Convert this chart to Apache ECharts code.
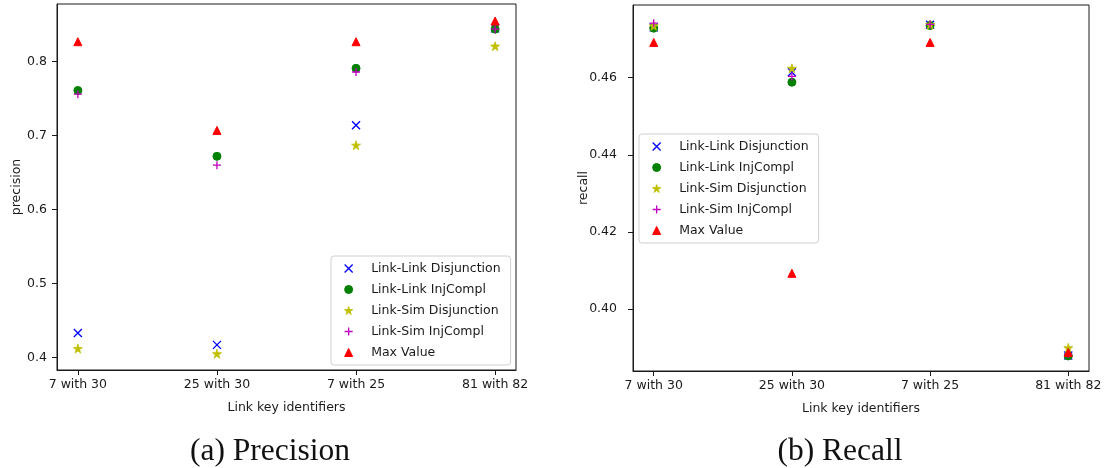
<!DOCTYPE html>
<html>
<head>
<meta charset="utf-8">
<title>Precision and Recall by link key</title>
<script src="https://cdn.jsdelivr.net/npm/echarts@6/dist/echarts.min.js"></script>
<style>
  html, body { margin: 0; padding: 0; background: #ffffff; }
  #chart { width: 1107px; height: 468px; }
</style>
</head>
<body>
<div id="chart"></div>
<script>
// Link key pairs on the x axis
const categories = ['7 with 30', '25 with 30', '7 with 25', '81 with 82'];
const seriesNames = ['Link-Link Disjunction', 'Link-Link InjCompl', 'Link-Sim Disjunction', 'Link-Sim InjCompl', 'Max Value'];

// Precision per link key
const precisionLinkLinkDisjunction = [0.433, 0.417, 0.714, 0.845];
const precisionLinkLinkInjCompl    = [0.761, 0.672, 0.791, 0.844];
const precisionLinkSimDisjunction  = [0.412, 0.405, 0.687, 0.821];
const precisionLinkSimInjCompl     = [0.756, 0.660, 0.786, 0.844];
const precisionMaxValue            = [0.827, 0.707, 0.827, 0.855];

// Recall per link key
const recallLinkLinkDisjunction = [0.4730, 0.4614, 0.4737, 0.3880];
const recallLinkLinkInjCompl    = [0.4728, 0.4588, 0.4735, 0.3879];
const recallLinkSimDisjunction  = [0.4734, 0.4624, 0.4737, 0.3900];
const recallLinkSimInjCompl     = [0.4741, 0.4603, 0.4738, 0.3884];
const recallMaxValue            = [0.4691, 0.4093, 0.4691, 0.3888];

// Tick labels
const precisionTicks = [0.4, 0.5, 0.6, 0.7, 0.8];
const recallTicks = [0.40, 0.42, 0.44, 0.46];

const FONT = 'DejaVu Sans';
const INK = '#1a1a1a';

// Marker shapes in the classic plotting style
const STAR = 'path://M100,0L122.45,69.1L195.11,69.1L136.33,111.8L158.78,180.9L100,138.2L41.22,180.9L63.67,111.8L4.89,69.1L77.55,69.1Z';
const CROSS = 'path://M0,0L10,10M10,0L0,10';
const PLUS = 'path://M5,0L5,10M0,5L10,5';
const TRIANGLE = 'path://M5,0L10,10L0,10Z';

const markerStyles = [
  { symbol: CROSS,    size: 8, color: '#0000ff', border: 1.3 },
  { symbol: 'circle', size: 8, color: '#008000', border: 1 },
  { symbol: STAR,     size: 9, color: '#bfbf00', border: 0.8 },
  { symbol: PLUS,     size: 8, color: '#bf00bf', border: 1.3 },
  { symbol: TRIANGLE, size: 8, color: '#ff0000', border: 1 }
];

const precisionSets = [precisionLinkLinkDisjunction, precisionLinkLinkInjCompl, precisionLinkSimDisjunction, precisionLinkSimInjCompl, precisionMaxValue];
const recallSets = [recallLinkLinkDisjunction, recallLinkLinkInjCompl, recallLinkSimDisjunction, recallLinkSimInjCompl, recallMaxValue];

function makeSeries(values, idx, axisIndex) {
  const m = markerStyles[idx];
  return {
    name: seriesNames[idx],
    type: 'scatter',
    xAxisIndex: axisIndex,
    yAxisIndex: axisIndex,
    symbol: m.symbol,
    symbolSize: m.size,
    itemStyle: { color: m.color, borderColor: m.color, borderWidth: m.border, opacity: 1 },
    emphasis: { disabled: true },
    data: values.map((v, i) => [i, v])
  };
}

function makeLegend(left, top) {
  return {
    orient: 'vertical',
    left: left,
    top: top,
    itemWidth: 35,
    itemHeight: 8,
    itemGap: 8,
    padding: [6, 10, 6, 13],
    backgroundColor: '#ffffff',
    borderColor: '#d0d0d0',
    borderWidth: 1,
    borderRadius: 3,
    selectedMode: false,
    symbolKeepAspect: true,
    textStyle: { fontFamily: FONT, fontSize: 12.5, color: INK, lineHeight: 12.5 },
    data: seriesNames.map((n, i) => ({
      name: n,
      icon: markerStyles[i].symbol,
      itemStyle: { borderWidth: markerStyles[i].border, borderColor: markerStyles[i].color }
    }))
  };
}

function xAxisFor(gridIndex) {
  return {
    type: 'value',
    gridIndex: gridIndex,
    min: -0.15,
    max: 3.15,
    name: 'Link key identifiers',
    nameLocation: 'middle',
    nameGap: 31,
    nameMoveOverlap: false,
    nameTextStyle: { fontFamily: FONT, fontSize: 12.5, color: INK },
    splitLine: { show: false },
    axisLine: { show: true, onZero: false, lineStyle: { color: INK, width: 1 } },
    axisTick: { show: true, length: 5, customValues: categories.map((c, i) => i), lineStyle: { color: INK } },
    axisLabel: {
      margin: 8,
      fontFamily: FONT, fontSize: 12.5, color: INK,
      customValues: categories.map((c, i) => i),
      formatter: (v) => categories[Math.round(v)]
    }
  };
}

function yAxisFor(gridIndex, name, min, max, ticks, digits, gap, labelMargin) {
  return {
    type: 'value',
    gridIndex: gridIndex,
    min: min,
    max: max,
    name: name,
    nameLocation: 'middle',
    nameGap: gap,
    nameMoveOverlap: false,
    nameTextStyle: { fontFamily: FONT, fontSize: 12.5, color: INK },
    splitLine: { show: false },
    axisLine: { show: true, onZero: false, lineStyle: { color: INK, width: 1 } },
    axisTick: { show: true, length: 5, customValues: ticks, lineStyle: { color: INK } },
    axisLabel: {
      margin: labelMargin,
      fontFamily: FONT, fontSize: 12.5, color: INK,
      customValues: ticks,
      formatter: (v) => v.toFixed(digits)
    }
  };
}

const chart = echarts.init(document.getElementById('chart'), null, { renderer: 'canvas' });

chart.setOption({
  animation: false,
  backgroundColor: '#ffffff',
  title: [
    { text: '(a) Precision', left: 270, top: 436, textAlign: 'center', padding: 0,
      textStyle: { fontFamily: 'Liberation Serif', fontSize: 31.5, fontWeight: 'normal', color: '#111' } },
    { text: '(b) Recall', left: 840, top: 436, textAlign: 'center', padding: 0,
      textStyle: { fontFamily: 'Liberation Serif', fontSize: 31.5, fontWeight: 'normal', color: '#111' } }
  ],
  grid: [
    { left: 57, top: 4, width: 459, height: 366, show: true, borderColor: INK, borderWidth: 1, backgroundColor: 'transparent' },
    { left: 633, top: 5, width: 456, height: 366, show: true, borderColor: INK, borderWidth: 1, backgroundColor: 'transparent' }
  ],
  legend: [makeLegend(331, 256), makeLegend(639, 134)],
  xAxis: [xAxisFor(0), xAxisFor(1)],
  yAxis: [
    yAxisFor(0, 'precision', 0.383, 0.878, precisionTicks, 1, 34, 10),
    yAxisFor(1, 'recall', 0.384, 0.4788, recallTicks, 2, 43, 16)
  ],
  series: [
    ...precisionSets.map((vals, i) => makeSeries(vals, i, 0)),
    ...recallSets.map((vals, i) => makeSeries(vals, i, 1))
  ]
});
</script>
</body>
</html>
